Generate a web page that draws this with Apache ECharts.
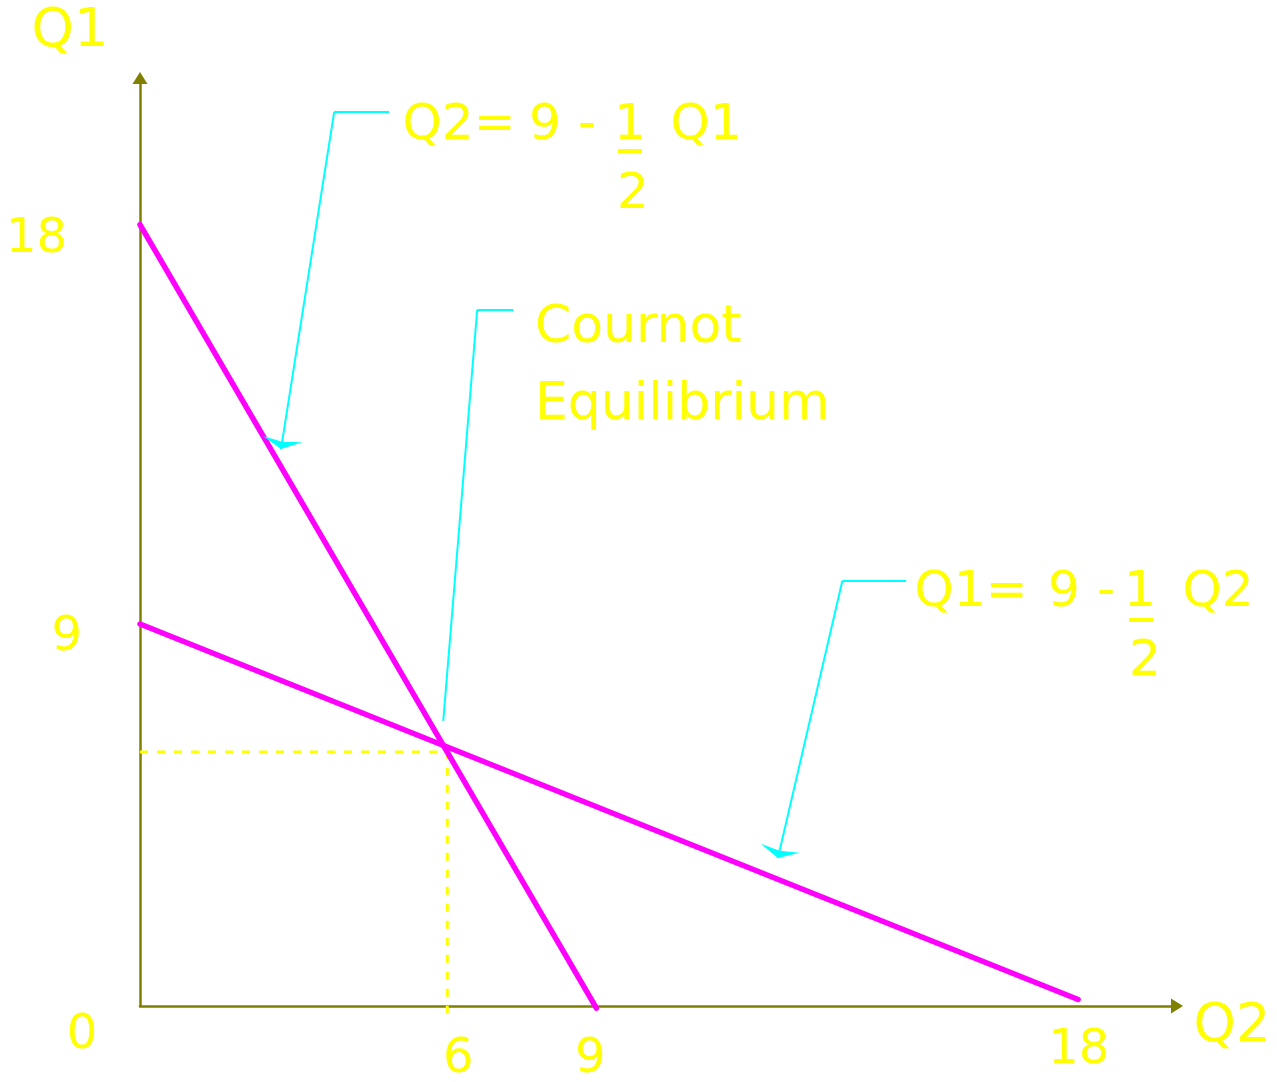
<!DOCTYPE html>
<html>
<head>
<meta charset="utf-8">
<title>Cournot Equilibrium</title>
<script src="https://cdn.jsdelivr.net/npm/echarts@6/dist/echarts.min.js"></script>
<style>
  html, body { margin: 0; padding: 0; background: #fff; }
  #chart { width: 1277px; height: 1082px; }
</style>
</head>
<body>
<div id="chart"></div>
<script>
// reaction curves, points as [Q2, Q1]
const firm2Reaction = [[0, 18], [9, -0.05]]      // Q2 = 9 - 1/2 Q1
const firm1Reaction = [[0, 8.8], [18.5, 0.15]]   // Q1 = 9 - 1/2 Q2
const equilibrium = [6.06, 5.85]
const xTicks = [0, 6, 9, 18]
const yTicks = [9, 18]
const xMax = 20.45
const yMax = 21.38

// callout leaders [text end, elbow, pointer end]
const calloutFirm2 = [[4.91, 20.6], [3.83, 20.6], [2.78, 12.83]]
const calloutEq = [[7.36, 16.04], [6.65, 16.04], [5.98, 6.57]]
const calloutFirm1 = [[15.11, 9.79], [13.85, 9.79], [12.58, 3.41]]

const YELLOW = '#FFFF00'
const CYAN = '#00FFFF'
const OLIVE = '#808000'
const MAGENTA = '#FF00FF'
const FONT = 'DejaVu Sans'

const chart = echarts.init(document.getElementById('chart'))

function leader(pts, arrow) {
  return [
    [{ coord: pts[0], symbol: 'none' }, { coord: pts[1], symbol: 'none' }],
    [{ coord: pts[1], symbol: 'none' },
     arrow ? { coord: pts[2], symbol: 'arrow', symbolSize: [30, 10] } : { coord: pts[2], symbol: 'none' }]
  ]
}

// per-label nudges so ticks sit where the slide put them
const xLabelRich = {
  x0: { padding: [6, 116, 0, 0] },
  x6: { padding: [30, 0, 0, 28] },
  x9: { padding: [30, 12, 0, 0] },
  x18: { padding: [21, 0, 0, 52] }
}
const yLabelRich = {
  y9: { padding: [44, 58, 0, 0] },
  y18: { padding: [30, 73, 0, 0] }
}

function txt(text, x, y, size, align) {
  return {
    type: 'text', x, y,
    style: {
      text, fill: YELLOW, font: size + 'px "' + FONT + '"',
      textAlign: align || 'center', textVerticalAlign: 'middle'
    }
  }
}
function bar(x1, x2, y) {
  return { type: 'rect', shape: { x: x1, y: y, width: x2 - x1, height: 4 }, style: { fill: YELLOW } }
}

chart.setOption({
  animation: false,
  backgroundColor: '#fff',
  grid: { left: 140, right: 100, top: 78, bottom: 76, outerBoundsMode: 'none' },
  xAxis: {
    type: 'value', min: 0, max: xMax,
    axisLine: { symbol: ['none', 'triangle'], symbolSize: [15, 12], lineStyle: { color: OLIVE, width: 2.5 } },
    axisTick: { show: false },
    splitLine: { show: false },
    axisLabel: {
      customValues: xTicks, margin: 0, verticalAlign: 'top',
      color: YELLOW, fontFamily: FONT, fontSize: 48,
      formatter: v => '{x' + v + '|' + v + '}',
      rich: Object.fromEntries(Object.entries(xLabelRich).map(([k, r]) =>
        [k, Object.assign({ color: YELLOW, fontFamily: FONT, fontSize: 48 }, r)]))
    }
  },
  yAxis: {
    type: 'value', min: 0, max: yMax,
    axisLine: { symbol: ['none', 'triangle'], symbolSize: [15, 12], lineStyle: { color: OLIVE, width: 2.5 } },
    axisTick: { show: false },
    splitLine: { show: false },
    axisLabel: {
      customValues: yTicks, margin: 0,
      color: YELLOW, fontFamily: FONT, fontSize: 48,
      formatter: v => '{y' + v + '|' + v + '}',
      rich: Object.fromEntries(Object.entries(yLabelRich).map(([k, r]) =>
        [k, Object.assign({ color: YELLOW, fontFamily: FONT, fontSize: 48 }, r)]))
    }
  },
  series: [
    {
      type: 'line', data: [[0, equilibrium[1]], equilibrium, [equilibrium[0], -0.25]],
      symbol: 'none', clip: false, silent: true,
      lineStyle: { color: YELLOW, width: 3, type: [8, 9] }
    },
    {
      name: 'Q2 = 9 - Q1/2', type: 'line', data: firm2Reaction,
      symbol: 'none', clip: false,
      lineStyle: { color: MAGENTA, width: 5.5, cap: 'round' }
    },
    {
      name: 'Q1 = 9 - Q2/2', type: 'line', data: firm1Reaction,
      symbol: 'none', clip: false,
      lineStyle: { color: MAGENTA, width: 5.5, cap: 'round' },
      markLine: {
        silent: true, animation: false,
        label: { show: false },
        lineStyle: { color: CYAN, width: 2, type: 'solid' },
        data: [].concat(leader(calloutFirm2, true), leader(calloutEq, false), leader(calloutFirm1, true))
      }
    }
  ],
  graphic: [
    txt('Q1', 70, 32, 54),
    txt('Q2', 1232, 1027, 54),
    // Q2 = 9 - 1/2 Q1
    txt('Q2=', 459, 126, 50), txt('9', 545, 126, 50), txt('-', 587, 126, 50),
    txt('1', 630, 126, 50), txt('Q1', 706, 126, 50), bar(618, 642, 149), txt('2', 633, 195, 50),
    // Cournot Equilibrium
    txt('Cournot', 535, 328, 52, 'left'),
    txt('Equilibrium', 535, 405, 52, 'left'),
    // Q1 = 9 - 1/2 Q2
    txt('Q1=', 971, 593, 50), txt('9', 1064, 593, 50), txt('-', 1106, 593, 50),
    txt('1', 1140, 593, 50), txt('Q2', 1218, 593, 50), bar(1129, 1153, 618), txt('2', 1145, 662, 50)
  ]
})
</script>
</body>
</html>
